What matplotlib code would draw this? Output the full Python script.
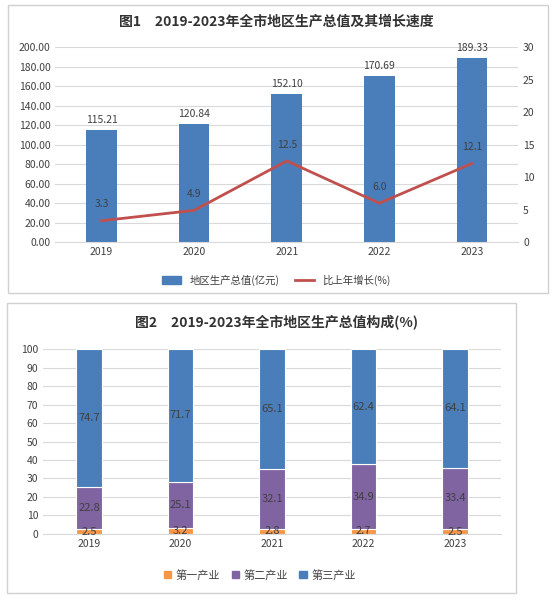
import matplotlib
matplotlib.use("Agg")
import matplotlib.pyplot as plt
from matplotlib.patches import Rectangle, Patch
from matplotlib.lines import Line2D

plt.rcParams['font.family'] = ['Noto Sans CJK SC', 'DejaVu Sans']

years = ['2019', '2020', '2021', '2022', '2023']
gdp = [115.21, 120.84, 152.10, 170.69, 189.33]
growth = [3.3, 4.9, 12.5, 6.0, 12.1]
primary = [2.5, 3.2, 2.8, 2.7, 2.5]
secondary = [22.8, 25.1, 32.1, 34.9, 33.4]
tertiary = [74.7, 71.7, 65.1, 62.4, 64.1]

blue = '#4a7ebb'
red = '#c0504d'
purple = '#8064a2'
orange = '#f79646'
grid = '#d9d9d9'
tc = '#404040'

fig = plt.figure(figsize=(5.53, 6.04), dpi=100)
fig.patches.append(Rectangle((8/553, 1-293/604), 540/553, 288/604, transform=fig.transFigure,
                             fill=False, edgecolor='#d0d0d0', lw=1))
fig.patches.append(Rectangle((7/553, 1-593/604), 509/553, 290/604, transform=fig.transFigure,
                             fill=False, edgecolor='#d0d0d0', lw=1))

x = list(range(len(years)))

ax = fig.add_axes([0.10, 0.599, 0.837, 0.323])
ax.bar(x, gdp, width=0.33, color=blue, zorder=2)
ax.set_ylim(0, 200)
ax.set_yticks(range(0, 201, 20))
ax.set_yticklabels([f'{v:.2f}' for v in range(0, 201, 20)])
ax.set_xticks(x)
ax.set_xticklabels(years)
ax.set_xlim(-0.5, 4.5)
ax.grid(axis='y', color=grid, lw=0.8, zorder=0)
for s in ax.spines.values():
    s.set_visible(False)
ax.spines['bottom'].set_visible(True)
ax.spines['bottom'].set_color(grid)
ax.tick_params(length=0, labelsize=7.5, colors=tc)
for i, v in enumerate(gdp):
    ax.text(i, v + 5, f'{v:.2f}', ha='center', va='bottom', fontsize=7.5, color=tc)
ax2 = ax.twinx()
ax2.plot(x, growth, color=red, lw=2, zorder=3)
ax2.set_ylim(0, 30)
ax2.set_yticks(range(0, 31, 5))
for s in ax2.spines.values():
    s.set_visible(False)
ax2.tick_params(length=0, labelsize=7.5, colors=tc)
for i, v in enumerate(growth):
    ax2.text(i, v + 2.5, f'{v:.1f}', ha='center', va='center', fontsize=7.5, color=tc)
fig.text(0.5, 1-22/604, '图1　2019-2023年全市地区生产总值及其增长速度', ha='center', va='center',
         fontsize=10, fontweight='bold', color='#333333')
fig.legend(handles=[Patch(color=blue, label='地区生产总值(亿元)'),
                    Line2D([], [], color=red, lw=2, label='比上年增长(%)')],
           loc='center', bbox_to_anchor=(0.5, 1-280/604), ncol=2, frameon=False,
           fontsize=7.5, handlelength=1.8, columnspacing=1.5, labelcolor=tc)

bx = fig.add_axes([0.078, 0.116, 0.828, 0.306])
bx.bar(x, primary, width=0.28, color=orange, zorder=2, edgecolor='white', lw=0.8)
bx.bar(x, secondary, bottom=primary, width=0.28, color=purple, zorder=2, edgecolor='white', lw=0.8)
b2 = [p + s for p, s in zip(primary, secondary)]
bx.bar(x, tertiary, bottom=b2, width=0.28, color=blue, zorder=2, edgecolor='white', lw=0.8)
bx.set_ylim(0, 100)
bx.set_yticks(range(0, 101, 10))
bx.set_xticks(x)
bx.set_xticklabels(years)
bx.set_xlim(-0.5, 4.5)
bx.grid(axis='y', color=grid, lw=0.8, zorder=0)
for s in bx.spines.values():
    s.set_visible(False)
bx.spines['bottom'].set_visible(True)
bx.spines['bottom'].set_color(grid)
bx.tick_params(length=0, labelsize=7.5, colors=tc)
for i in x:
    bx.text(i, primary[i] / 2, f'{primary[i]}', ha='center', va='center', fontsize=8, color=tc)
    bx.text(i, primary[i] + secondary[i] / 2, f'{secondary[i]}', ha='center', va='center', fontsize=8, color=tc)
    bx.text(i, b2[i] + tertiary[i] / 2, f'{tertiary[i]}', ha='center', va='center', fontsize=8, color=tc)
fig.text(0.5, 1-322/604, '图2　2019-2023年全市地区生产总值构成(%)', ha='center', va='center',
         fontsize=10, fontweight='bold', color='#333333')
fig.legend(handles=[Patch(color=orange, label='第一产业'), Patch(color=purple, label='第二产业'),
                    Patch(color=blue, label='第三产业')],
           loc='center', bbox_to_anchor=(0.47, 1-575/604), ncol=3, frameon=False,
           fontsize=8, handlelength=0.7, handleheight=0.7, columnspacing=1.0, handletextpad=0.4,
           labelcolor=tc)

fig.savefig('out.png', dpi=100)
